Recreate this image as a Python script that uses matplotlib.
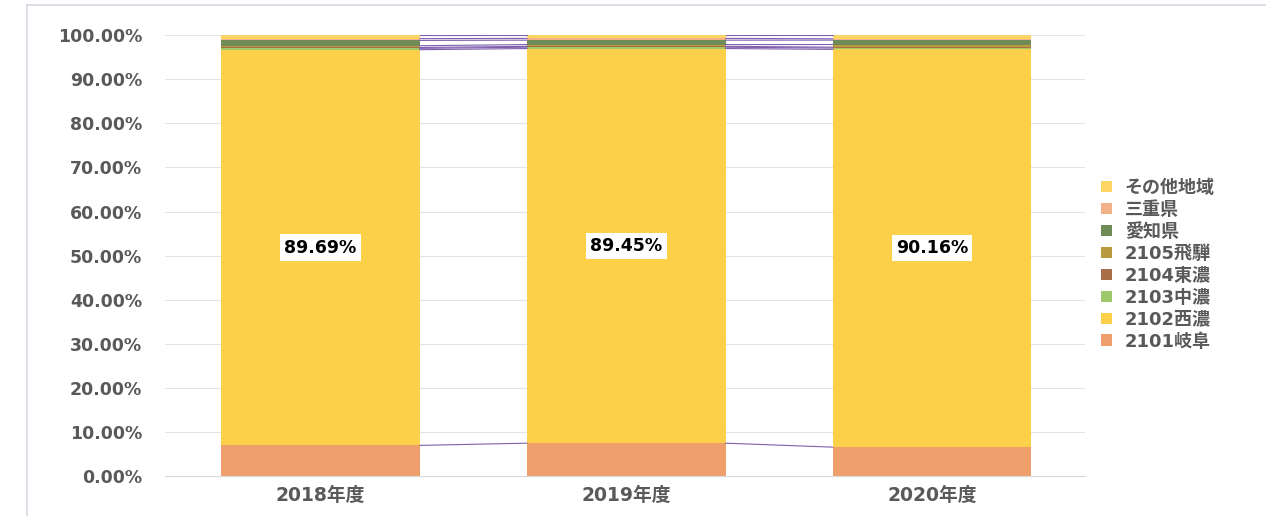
import matplotlib
matplotlib.use("Agg")
import matplotlib.pyplot as plt
import numpy as np

plt.rcParams['font.family'] = ['DejaVu Sans', 'Noto Sans CJK JP']

years = ["2018年度", "2019年度", "2020年度"]
series_names = ["2101岐阜", "2102西濃", "2103中濃", "2104東濃", "2105飛騨", "愛知県", "三重県", "その他地域"]
gifu     = [7.0, 7.5, 6.6]
seino    = [89.69, 89.45, 90.16]
chuno    = [0.3, 0.3, 0.3]
tono     = [0.2, 0.2, 0.2]
hida     = [0.4, 0.4, 0.6]
aichi    = [1.2, 1.0, 1.0]
mie      = [0.4, 0.4, 0.3]
others   = [0.81, 0.75, 0.84]
colors = ["#ef9f6b", "#fdd049", "#9dc86c", "#a86e47", "#b89a3f", "#6f8c58", "#f2b187", "#fcd565"]

data = [gifu, seino, chuno, tono, hida, aichi, mie, others]

fig = plt.figure(figsize=(12.66, 5.16), dpi=100)
fig.patch.set_facecolor("white")
ax = fig.add_axes([0.13, 0.077, 0.727, 0.855])
ax.set_facecolor("white")

x = np.arange(len(years))
width = 0.65
bottom = np.zeros(len(years))
tops = []
for vals, col, name in zip(data, colors, series_names):
    vals = np.array(vals)
    ax.bar(x, vals, width, bottom=bottom, color=col, label=name, zorder=2, linewidth=0)
    if name == "2102西濃":
        for xi, b, v in zip(x, bottom, vals):
            ax.text(xi, b + v / 2, f"{v:.2f}%", ha="center", va="center", fontsize=12.5,
                    fontweight="bold", color="black",
                    bbox=dict(facecolor="white", edgecolor="none", pad=3), zorder=4)
    bottom = bottom + vals
    tops.append(bottom.copy())

# series lines
for t in tops:
    for i in range(len(years) - 1):
        ax.plot([x[i] + width / 2, x[i + 1] - width / 2], [t[i], t[i + 1]],
                color="#7f5fae", lw=0.8, zorder=3)

ax.set_xlim(-0.51, 2.5)
ax.set_ylim(0, 100)
ax.set_yticks(np.arange(0, 101, 10))
ax.set_yticklabels([f"{v:.2f}%" for v in np.arange(0, 101, 10)])
ax.set_xticks(x)
ax.set_xticklabels(years)
ax.yaxis.grid(True, color="#e4e4e4", lw=0.8, zorder=0)
ax.set_axisbelow(True)
for s in ["top", "right", "left"]:
    ax.spines[s].set_visible(False)
ax.spines["bottom"].set_color("#d9d9d9")
ax.tick_params(axis="y", length=0, colors="#595959", labelsize=12.5, pad=16)
ax.tick_params(axis="x", length=0, colors="#595959", labelsize=13.5, pad=7)
for lab in ax.get_yticklabels() + ax.get_xticklabels():
    lab.set_fontweight("bold")

handles, labels = ax.get_legend_handles_labels()
leg = fig.legend(handles[::-1], labels[::-1], loc="upper left", bbox_to_anchor=(0.857, 0.685),
                 frameon=False, handlelength=0.6, handleheight=0.6,
                 handletextpad=0.7, labelspacing=0.22, labelcolor="#595959",
                 prop={"weight": "bold", "size": 13})

# outer frame lines
fig.add_artist(plt.Line2D([0.021, 0.021], [0.0, 0.99], color="#d5dbe3", lw=1.2, transform=fig.transFigure))
fig.add_artist(plt.Line2D([0.021, 1.0], [0.99, 0.99], color="#d5dbe3", lw=1.2, transform=fig.transFigure))

fig.savefig("out.png", dpi=100, facecolor="white")
